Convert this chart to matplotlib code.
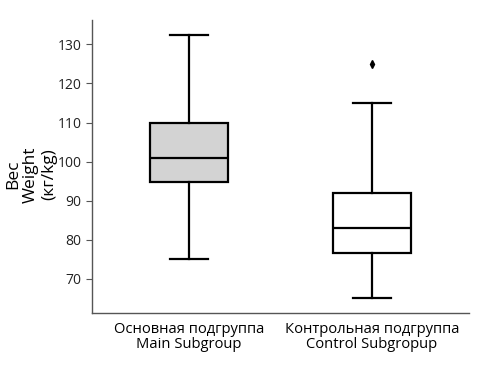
import matplotlib.pyplot as plt

# group labels (RU / EN)
groups = ["Основная подгруппа\nMain Subgroup", "Контрольная подгруппа\nControl Subgropup"]

# box stats
whislo = [75.1, 65.0]
q1 = [94.8, 76.5]
med = [101.0, 83.0]
q3 = [110.0, 92.1]
whishi = [132.5, 115.0]
fliers = [[], [125.1]]
fills = ["#d3d3d3", "white"]

plt.rcParams.update({
    "font.family": ["Open Sans", "DejaVu Sans"],
    "font.size": 10,
})

fig = plt.figure(figsize=(4.82, 3.66), dpi=100)
ax = fig.add_axes([0.191, 0.144, 0.782, 0.801])

stats = []
for i in range(len(groups)):
    stats.append(dict(whislo=whislo[i], q1=q1[i], med=med[i], q3=q3[i],
                      whishi=whishi[i], fliers=fliers[i]))

bp = ax.bxp(stats, positions=[1, 2], widths=0.425, patch_artist=True,
            showfliers=True,
            boxprops=dict(edgecolor="black", linewidth=1.6),
            medianprops=dict(color="black", linewidth=1.6),
            whiskerprops=dict(color="black", linewidth=1.6),
            capprops=dict(color="black", linewidth=1.6),
            capwidths=0.21,
            flierprops=dict(marker="d", markerfacecolor="black",
                            markeredgecolor="black", markersize=4))
for patch, col in zip(bp["boxes"], fills):
    patch.set_facecolor(col)

ax.set_xlim(0.47, 2.53)
ax.set_ylim(61.2, 136.2)
ax.set_yticks([70, 80, 90, 100, 110, 120, 130])
ax.set_xticks([1, 2])
ax.set_xticklabels(groups, fontsize=10.6, linespacing=1.05)
ax.tick_params(axis="x", length=0, pad=6, colors="black")
ax.tick_params(axis="y", length=4, color="#555555", labelsize=10, labelcolor="#222222")

for side in ["top", "right"]:
    ax.spines[side].set_visible(False)
for side in ["left", "bottom"]:
    ax.spines[side].set_color("#555555")
    ax.spines[side].set_linewidth(1.0)

ax.set_ylabel("Вес\nWeight\n(кг/kg)", fontsize=12.5, linespacing=1.15)
ax.yaxis.set_label_coords(-0.093, 0.474)

fig.savefig("out.png", dpi=100)
